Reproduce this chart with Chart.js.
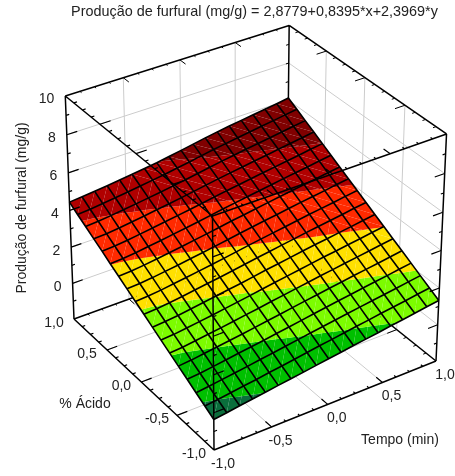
<!DOCTYPE html>
<html>
<head>
<meta charset="utf-8">
<script src="https://cdn.jsdelivr.net/npm/chart.js@4"></script>
<style>
  html, body { margin: 0; padding: 0; background: #fff; }
  canvas { display: block; }
</style>
</head>
<body>
<canvas id="chart" width="455" height="476"></canvas>
<script>
// texts
const chartTitle = 'Produção de furfural (mg/g) = 2,8779+0,8395*x+2,3969*y';
const zTitle = 'Produção de furfural (mg/g)';
const acidTitle = '% Ácido';
const tempoTitle = 'Tempo (min)';

// axis ticks
const tempoTicks = [-1, -0.5, 0, 0.5, 1];
const tempoLabels = ['-1,0', '-0,5', '0,0', '0,5', '1,0'];
const acidTicks = [-1, -0.5, 0, 0.5, 1];
const acidLabels = ['-1,0', '-0,5', '0,0', '0,5', '1,0'];
const minorTicks = [-0.875, -0.75, -0.625, -0.375, -0.25, -0.125, 0.125, 0.25, 0.375, 0.625, 0.75, 0.875];
const zTicks = [0, 2, 4, 6, 8, 10];
const zLabels = ['0', '2', '4', '6', '8', '10'];
const zMinor = [-1, 1, 3, 5, 7, 9];

// surface grid, values
const tempoGrid = [-1, -0.889, -0.778, -0.667, -0.556, -0.444, -0.333, -0.222, -0.111, 0, 0.111, 0.222, 0.333, 0.444, 0.556, 0.667, 0.778, 0.889, 1];
const acidGrid = [-1, -0.882, -0.765, -0.647, -0.529, -0.412, -0.294, -0.176, -0.059, 0.059, 0.176, 0.294, 0.412, 0.529, 0.647, 0.765, 0.882, 1];
const furfural = [
  [-0.36, -0.27, -0.17, -0.08, 0.01, 0.11, 0.20, 0.29, 0.39, 0.48, 0.57, 0.67, 0.76, 0.85, 0.95, 1.04, 1.13, 1.23, 1.32],
  [-0.08, 0.00, 0.09, 0.18, 0.27, 0.37, 0.46, 0.56, 0.66, 0.76, 0.85, 0.95, 1.04, 1.13, 1.23, 1.32, 1.41, 1.51, 1.60],
  [0.20, 0.28, 0.37, 0.46, 0.55, 0.65, 0.74, 0.84, 0.94, 1.04, 1.13, 1.23, 1.33, 1.42, 1.51, 1.60, 1.69, 1.79, 1.88],
  [0.49, 0.55, 0.64, 0.73, 0.83, 0.92, 1.01, 1.11, 1.21, 1.31, 1.41, 1.51, 1.61, 1.70, 1.80, 1.89, 1.98, 2.08, 2.17],
  [0.77, 0.83, 0.92, 1.01, 1.10, 1.19, 1.29, 1.39, 1.49, 1.59, 1.69, 1.79, 1.89, 1.98, 2.08, 2.17, 2.26, 2.36, 2.45],
  [1.05, 1.10, 1.19, 1.28, 1.37, 1.47, 1.57, 1.66, 1.77, 1.87, 1.97, 2.07, 2.17, 2.26, 2.36, 2.45, 2.54, 2.64, 2.73],
  [1.33, 1.38, 1.46, 1.55, 1.64, 1.74, 1.84, 1.94, 2.05, 2.15, 2.25, 2.35, 2.45, 2.55, 2.64, 2.73, 2.82, 2.92, 3.01],
  [1.61, 1.66, 1.73, 1.82, 1.92, 2.02, 2.12, 2.21, 2.32, 2.43, 2.53, 2.63, 2.73, 2.83, 2.92, 3.01, 3.10, 3.20, 3.29],
  [1.90, 1.94, 2.01, 2.10, 2.20, 2.30, 2.39, 2.49, 2.60, 2.71, 2.81, 2.91, 3.01, 3.11, 3.20, 3.30, 3.39, 3.49, 3.58],
  [2.18, 2.22, 2.29, 2.38, 2.47, 2.57, 2.67, 2.77, 2.88, 2.99, 3.09, 3.19, 3.29, 3.39, 3.49, 3.58, 3.67, 3.77, 3.86],
  [2.46, 2.50, 2.57, 2.66, 2.75, 2.85, 2.95, 3.05, 3.16, 3.27, 3.37, 3.47, 3.57, 3.67, 3.77, 3.86, 3.95, 4.05, 4.14],
  [2.74, 2.78, 2.85, 2.94, 3.03, 3.13, 3.23, 3.33, 3.44, 3.55, 3.65, 3.75, 3.85, 3.95, 4.05, 4.14, 4.23, 4.33, 4.42],
  [3.02, 3.06, 3.13, 3.22, 3.31, 3.41, 3.51, 3.61, 3.72, 3.83, 3.93, 4.03, 4.13, 4.23, 4.33, 4.42, 4.51, 4.61, 4.70],
  [3.31, 3.35, 3.42, 3.51, 3.60, 3.70, 3.80, 3.90, 4.01, 4.12, 4.22, 4.32, 4.42, 4.52, 4.61, 4.71, 4.80, 4.90, 4.99],
  [3.59, 3.63, 3.70, 3.79, 3.88, 3.98, 4.07, 4.17, 4.28, 4.39, 4.50, 4.60, 4.70, 4.80, 4.89, 4.99, 5.08, 5.18, 5.27],
  [3.87, 3.92, 3.99, 4.07, 4.16, 4.25, 4.34, 4.44, 4.55, 4.66, 4.77, 4.88, 4.98, 5.08, 5.17, 5.27, 5.36, 5.46, 5.55],
  [4.15, 4.20, 4.27, 4.35, 4.44, 4.53, 4.62, 4.71, 4.82, 4.93, 5.05, 5.16, 5.26, 5.36, 5.45, 5.55, 5.64, 5.74, 5.83],
  [4.44, 4.50, 4.57, 4.64, 4.72, 4.80, 4.89, 4.98, 5.09, 5.20, 5.32, 5.44, 5.55, 5.65, 5.74, 5.83, 5.92, 6.01, 6.11]
];

// contour bands of the surface
const bandEdges = [-Infinity, 0, 1, 2, 3, 4, 5, Infinity];
const bandColors = ['#0a6e3c', '#00c000', '#7cfc00', '#ffe000', '#ff2a00', '#b00000', '#800000'];

// box limits
const zMin = -2, zMax = 10;

// camera: where the box corners land on the page, plus the perspective terms
const cam = {
  o: [214, 450], tx: [436, 361], sy: [74, 319], hz: [212.5, 216],
  a: 0.05, b: 0.078, c: -0.0536
};

const TITLE_H = 26; // height the title box takes
const LEFT_PAD = 54; // moves the title centre to where the reference has it

function project(x, y, z) {
  const t = (x + 1) / 2, s = (y + 1) / 2, h = (z - zMin) / (zMax - zMin);
  const w = 1 + cam.a * t + cam.b * s + cam.c * h;
  const f = i => (cam.o[i]
    + t * ((1 + cam.a) * cam.tx[i] - cam.o[i])
    + s * ((1 + cam.b) * cam.sy[i] - cam.o[i])
    + h * ((1 + cam.c) * cam.hz[i] - cam.o[i])) / w;
  return { x: f(0), y: f(1) };
}

const datasets = []; // pushed bottom to top, reversed at the end

function addLine(points, color, width) {
  datasets.push({
    data: points, showLine: true, fill: false, borderColor: color, borderWidth: width,
    pointRadius: 0, tension: 0, spanGaps: false, clip: false
  });
}

function addPoly(points, color) {
  datasets.push({
    data: points.concat([points[0]]), showLine: true, fill: 'shape', backgroundColor: color,
    borderWidth: 0, borderColor: color, pointRadius: 0, tension: 0
  });
}

const GAP = { x: null, y: null };

// segments joined in one dataset, null points break the line
function segs(list) {
  const out = [];
  list.forEach(p => {
    out.push(project(p[0][0], p[0][1], p[0][2]), project(p[1][0], p[1][1], p[1][2]), GAP);
  });
  return out;
}

const gridColor = '#cccccc', boxColor = '#000000';
const majorT = 0.09, majorS = 0.08, minorShare = 0.3;
const inner = tempoTicks.slice(1, -1), innerAcid = acidTicks.slice(1, -1);
const zInner = zTicks.slice(0, -1);

// back walls and floor grid
const grid = [];
inner.forEach(x => {
  grid.push([[x, 1, zMin], [x, 1, zMax]]);
  grid.push([[x, -1, zMin], [x, 1, zMin]]);
});
innerAcid.forEach(y => {
  grid.push([[1, y, zMin], [1, y, zMax]]);
  grid.push([[-1, y, zMin], [1, y, zMin]]);
});
zInner.forEach(z => {
  grid.push([[-1, 1, z], [1, 1, z]]);
  grid.push([[1, 1, z], [1, -1, z]]);
});
addLine(segs(grid), gridColor, 1);

// ticks along one edge: p(v) gives the start point, d the inward direction
function edgeTicks(values, p, d, len) {
  return values.map(v => {
    const a = p(v);
    return [a, [a[0] + d[0] * len, a[1] + d[1] * len, a[2]]];
  });
}
function zEdgeTicks(values, x, y, dir, len) {
  return values.map(z => [[x, y, z], [x + dir * len, y, z]]);
}

// back edges and their ticks
const backEdges = [
  [[-1, 1, zMax], [1, 1, zMax]], [[1, 1, zMax], [1, -1, zMax]],
  [[1, 1, zMin], [1, 1, zMax]],
  [[-1, 1, zMin], [1, 1, zMin]], [[1, 1, zMin], [1, -1, zMin]]
];
addLine(segs(backEdges), boxColor, 1.5);
const backTicks = [].concat(
  edgeTicks(inner, v => [v, 1, zMax], [0, -1], majorS),
  edgeTicks(minorTicks, v => [v, 1, zMax], [0, -1], majorS * minorShare),
  edgeTicks(innerAcid, v => [1, v, zMax], [-1, 0], majorT),
  edgeTicks(minorTicks, v => [1, v, zMax], [-1, 0], majorT * minorShare),
  edgeTicks(inner, v => [v, 1, zMin], [0, -1], majorS),
  edgeTicks(minorTicks, v => [v, 1, zMin], [0, -1], majorS * minorShare),
  edgeTicks(innerAcid, v => [1, v, zMin], [-1, 0], majorT),
  edgeTicks(minorTicks, v => [1, v, zMin], [-1, 0], majorT * minorShare),
  zEdgeTicks(zMinor.concat(zInner), 1, 1, -1, majorT * minorShare)
);
addLine(segs(backTicks), boxColor, 1);

// keep the part of a polygon where z is on the wanted side of a limit
function clipZ(poly, limit, above) {
  const out = [];
  const inside = v => above ? v[2] >= limit : v[2] <= limit;
  poly.forEach((a, i) => {
    const b = poly[(i + 1) % poly.length];
    if (inside(a)) out.push(a);
    if (inside(a) !== inside(b)) {
      const k = (limit - a[2]) / (b[2] - a[2]);
      out.push([a[0] + k * (b[0] - a[0]), a[1] + k * (b[1] - a[1]), limit]);
    }
  });
  return out;
}

function addTriangle(tri) {
  bandColors.forEach((color, n) => {
    let poly = tri;
    if (isFinite(bandEdges[n])) poly = clipZ(poly, bandEdges[n], true);
    if (poly.length && isFinite(bandEdges[n + 1])) poly = clipZ(poly, bandEdges[n + 1], false);
    if (poly.length >= 3) addPoly(poly.map(v => project(v[0], v[1], v[2])), color);
  });
}

// surface, split in triangles
acidGrid.slice(0, -1).forEach((y0, j) => {
  tempoGrid.slice(0, -1).forEach((x0, i) => {
    const y1 = acidGrid[j + 1], x1 = tempoGrid[i + 1];
    const p00 = [x0, y0, furfural[j][i]], p10 = [x1, y0, furfural[j][i + 1]];
    const p01 = [x0, y1, furfural[j + 1][i]], p11 = [x1, y1, furfural[j + 1][i + 1]];
    // the seam runs the other way in the far part of the surface
    if (i / 18 + j / 17 > 1.2) {
      addTriangle([p00, p10, p01]);
      addTriangle([p10, p11, p01]);
    } else {
      addTriangle([p00, p10, p11]);
      addTriangle([p00, p11, p01]);
    }
  });
});

// mesh
acidGrid.forEach((y, j) => {
  addLine(furfural[j].map((z, i) => project(tempoGrid[i], y, z)), boxColor, 1.6);
});
tempoGrid.forEach((x, i) => {
  addLine(acidGrid.map((y, j) => project(x, y, furfural[j][i])), boxColor, 1.6);
});

// front edges and their ticks
const frontEdges = [
  [[-1, 1, zMin], [-1, 1, zMax]], [[1, -1, zMin], [1, -1, zMax]], [[-1, -1, zMin], [-1, -1, zMax]],
  [[-1, 1, zMax], [-1, -1, zMax]], [[-1, -1, zMax], [1, -1, zMax]],
  [[-1, 1, zMin], [-1, -1, zMin]], [[-1, -1, zMin], [1, -1, zMin]]
];
addLine(segs(frontEdges), boxColor, 1.5);
const frontTicks = [].concat(
  edgeTicks(innerAcid, v => [-1, v, zMax], [1, 0], majorT),
  edgeTicks(minorTicks, v => [-1, v, zMax], [1, 0], majorT * minorShare),
  edgeTicks(inner, v => [v, -1, zMax], [0, 1], majorS),
  edgeTicks(minorTicks, v => [v, -1, zMax], [0, 1], majorS * minorShare),
  edgeTicks(innerAcid, v => [-1, v, zMin], [1, 0], majorT),
  edgeTicks(minorTicks, v => [-1, v, zMin], [1, 0], majorT * minorShare),
  edgeTicks(inner, v => [v, -1, zMin], [0, 1], majorS),
  edgeTicks(minorTicks, v => [v, -1, zMin], [0, 1], majorS * minorShare),
  zEdgeTicks(zInner, -1, 1, 1, majorT), zEdgeTicks(zMinor, -1, 1, 1, majorT * minorShare),
  zEdgeTicks(zInner, -1, -1, 1, majorT), zEdgeTicks(zMinor, -1, -1, 1, majorT * minorShare),
  zEdgeTicks(zInner, 1, -1, -1, majorT), zEdgeTicks(zMinor, 1, -1, -1, majorT * minorShare)
);
addLine(segs(frontTicks), boxColor, 1.2);

datasets.reverse(); // chart.js paints the first dataset last

// tick labels and axis titles, placed through the scales
const boxLabels = {
  id: 'boxLabels',
  afterDraw(chart) {
    const ctx = chart.ctx, sx = chart.scales.x, sy = chart.scales.y;
    const put = (text, p, dx, dy, align) => {
      ctx.textAlign = align;
      ctx.fillText(text, sx.getPixelForValue(p.x) + dx, sy.getPixelForValue(p.y) + dy);
    };
    ctx.save();
    ctx.fillStyle = '#222222';
    ctx.textBaseline = 'middle';
    ctx.font = '14px "Liberation Sans"';
    zTicks.forEach((z, i) => put(zLabels[i], project(-1, 1, z), -11, 3.5, 'right'));
    acidTicks.forEach((y, i) => put(acidLabels[i], project(-1, y, zMin), -20, 4, 'center'));
    tempoTicks.forEach((x, i) => put(tempoLabels[i], project(x, -1, zMin), 9, 14, 'center'));
    ctx.textAlign = 'center';
    ctx.fillText(acidTitle, 85, 404);
    ctx.fillText(tempoTitle, 400, 440);
    ctx.translate(22, 208);
    ctx.rotate(-Math.PI / 2);
    ctx.fillText(zTitle, 0, 0);
    ctx.restore();
  }
};

new Chart(document.getElementById('chart'), {
  type: 'scatter',
  data: { datasets },
  plugins: [boxLabels],
  options: {
    responsive: false,
    animation: false,
    events: [],
    layout: { padding: { left: LEFT_PAD } },
    scales: {
      x: { type: 'linear', display: false, min: LEFT_PAD, max: 455 },
      y: { type: 'linear', display: false, reverse: true, min: TITLE_H, max: 476 }
    },
    plugins: {
      legend: { display: false },
      tooltip: { enabled: false },
      title: {
        display: true,
        text: chartTitle,
        color: '#222222',
        font: { family: '"Liberation Sans"', size: 14.4, weight: 'normal', lineHeight: '16px' },
        padding: { top: 4, bottom: 6 }
      }
    }
  }
});
</script>
</body>
</html>
